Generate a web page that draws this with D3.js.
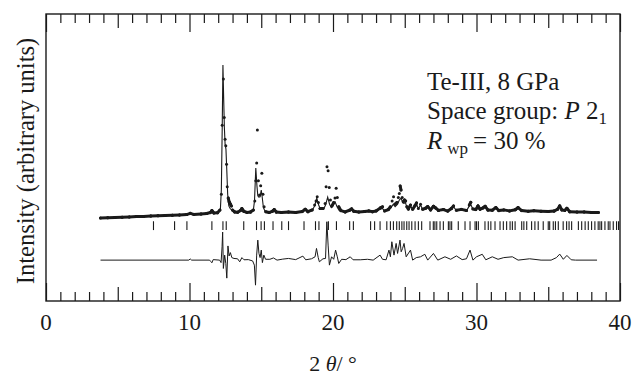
<!DOCTYPE html>
<html>
<head>
<meta charset="utf-8">
<script src="https://cdn.jsdelivr.net/npm/d3@7"></script>
<style>
  body { margin: 0; background: #fff; }
  svg { display: block; font-family: "Liberation Serif", "DejaVu Serif", serif; }
</style>
</head>
<body>
<div id="chart"></div>
<script>
// 2theta in degrees, intensity in arbitrary units
const calc = [[3.8,7.7],[5,8.1],[6,8.5],[7,8.8],[8,9.2],[9,9.5],[9.95,9.8],[10.05,10.3],[10.15,9.9],[11,10.2],
  [11.42,10.6],[11.56,11.9],[11.7,10.7],[12.0,10.9],[12.15,12.5],[12.22,25],[12.28,62],[12.33,99.4],[12.38,80],[12.43,62],
  [12.48,52],[12.54,49],[12.6,36],[12.66,22],[12.74,15],[12.85,13.2],[12.95,12.6],[13.1,11.3],[13.4,11.1],[13.55,11.8],
  [13.65,12.9],[13.78,11.6],[14.0,11.0],[14.3,11.2],[14.45,12.5],[14.53,18],[14.62,37.7],[14.7,27],[14.76,21],[14.83,20.3],
  [14.92,20.5],[15.0,24.5],[15.07,20],[15.15,14],[15.28,11.4],[15.55,10.9],[15.78,11.5],[15.9,12.4],[16.05,11.1],[16.4,10.9],
  [17.0,11.0],[17.5,10.9],[17.85,11.4],[18.06,12.6],[18.25,11.3],[18.55,12.2],[18.72,15],[18.87,19.7],[19.0,15.5],[19.12,13],
  [19.35,13.2],[19.48,15.5],[19.63,20.3],[19.76,16],[19.88,14],[20.0,15],[20.15,17.3],[20.28,14.5],[20.42,12.3],[20.8,11.2],
  [21.15,12.2],[21.3,12.8],[21.45,11.5],[22.0,11.3],[22.5,11.7],[22.75,11.3],[23.0,11.6],[23.3,13.3],[23.45,13.5],[23.6,11.8],
  [23.85,12.3],[24.05,14],[24.2,16],[24.33,14.5],[24.5,16],[24.62,18.5],[24.75,19.7],[24.85,17],[24.95,16.5],[25.05,17],
  [25.15,14],[25.25,12.8],[25.4,15],[25.55,12.8],[25.7,14.5],[25.82,16.3],[25.95,13.2],[26.1,15.5],[26.25,12.8],[26.45,13.3],
  [26.6,14.2],[26.8,12.4],[27.0,14.3],[27.15,13.4],[27.35,12.1],[27.7,12.5],[28.0,11.8],[28.25,13],[28.4,14.5],[28.6,12.2],
  [28.95,12.6],[29.3,12],[29.5,15],[29.6,16],[29.75,12.8],[29.95,12.5],[30.1,14.5],[30.25,12.8],[30.45,13.4],[30.6,14.3],
  [30.8,12.3],[31.1,12.2],[31.35,13.6],[31.55,12],[31.9,12.4],[32.3,11.8],[32.7,12.4],[32.9,13.6],[33.15,12],[33.6,11.7],
  [34,11.9],[34.5,11.7],[35,11.5],[35.4,11.7],[35.65,12.6],[35.8,14.5],[35.95,12.4],[36.15,12.1],[36.3,13.2],[36.5,11.4],
  [37,11.2],[37.5,11.3],[38,11],[38.5,10.9]];

const obs = [[3.8,7.7],[4.3,7.9],[4.8,8.1],[5.3,8.2],[5.8,8.4],[6.3,8.6],[6.8,8.7],[7.3,8.9],[7.8,9.1],[8.3,9.3],
  [8.8,9.4],[9.3,9.6],[9.8,9.8],[10.05,10.5],[10.3,9.9],[10.8,10.1],[11.2,10.4],[11.45,11.0],[11.56,12.2],[11.7,10.8],
  [11.95,10.9],[12.12,12.5],[12.22,22],[12.28,63.4],[12.36,91],[12.42,68],[12.48,55],[12.53,51],[12.58,40],[12.63,26.5],
  [12.7,19.7],[12.77,17.3],[12.84,16.2],[12.92,15],[13.0,12.5],[13.15,11.4],[13.35,11.2],[13.55,12.2],[13.65,13.4],[13.78,11.8],
  [14.0,11.1],[14.25,11.3],[14.45,12.5],[14.55,18],[14.62,30],[14.68,40.7],[14.73,60.5],[14.8,30],[14.88,21.5],[14.96,27],
  [15.04,34.5],[15.12,22],[15.2,14.5],[15.32,11.5],[15.55,11],[15.78,11.8],[15.9,12.8],[16.05,11.3],[16.4,11.1],[16.9,11.3],
  [17.4,11.1],[17.85,11.6],[18.06,13.0],[18.25,11.5],[18.55,12.6],[18.72,15.5],[18.82,18],[18.9,20.5],[18.98,17],[19.1,13.5],
  [19.3,13.5],[19.45,16.5],[19.52,26.5],[19.58,38.5],[19.66,36],[19.74,26],[19.82,18.5],[19.92,15],[20.05,17],[20.14,19.7],
  [20.22,25.5],[20.3,20],[20.4,14.5],[20.55,12.2],[20.85,11.4],[21.15,12.4],[21.3,13.2],[21.45,11.8],[21.8,11.4],[22.2,11.6],
  [22.5,12.0],[22.75,11.5],[23.0,12.0],[23.3,13.8],[23.45,14.5],[23.6,12],[23.85,12.8],[24.0,14.5],[24.12,18],[24.22,20.5],
  [24.32,16],[24.45,17],[24.55,20],[24.62,22.5],[24.68,26.9],[24.74,24.5],[24.82,20],[24.9,17.5],[24.98,18.5],[25.06,18],
  [25.15,14.5],[25.25,13.2],[25.4,15.5],[25.55,13],[25.72,15.2],[25.82,16.8],[25.95,13.5],[26.1,16],[26.25,13],[26.45,13.6],
  [26.6,14.6],[26.8,12.6],[27.0,14.8],[27.15,13.8],[27.35,12.3],[27.7,12.8],[28.0,11.9],[28.25,13.4],[28.4,15],[28.6,12.4],
  [28.95,12.9],[29.3,12.2],[29.5,15.6],[29.6,17.2],[29.75,13.2],[29.95,12.8],[30.1,15],[30.25,13],[30.45,13.8],[30.6,14.8],
  [30.8,12.5],[31.1,12.4],[31.35,14],[31.55,12.2],[31.9,12.6],[32.3,12.0],[32.7,12.7],[32.9,14],[33.15,12.2],[33.6,11.8],
  [34.0,12.1],[34.5,11.8],[35.0,11.6],[35.4,11.9],[35.65,13],[35.8,15],[35.95,12.6],[36.15,12.3],[36.3,13.6],[36.5,11.5],
  [37.0,11.3],[37.5,11.4],[38.0,11.1],[38.5,11.0]];

// obs - calc
const diff = [[3.8,0],[9.95,0],[10.05,0.7],[10.15,0],[11.4,0],[11.48,-0.8],[11.56,-1.6],[11.65,0.3],[12.1,0],[12.2,-1.5],
  [12.27,8],[12.31,16.8],[12.36,-5],[12.45,3],[12.53,-2],[12.6,-10.8],[12.68,8.5],[12.76,2.5],[12.85,4.5],[12.95,1.5],
  [13.1,1],[13.35,0.8],[13.5,-1],[13.65,1.5],[13.8,0.2],[14.1,0.3],[14.4,-0.5],[14.52,-3],[14.6,-15],[14.68,3],
  [14.76,12],[14.84,4],[14.92,1.5],[15.0,6],[15.08,-1.5],[15.18,3],[15.3,0.5],[15.6,0.5],[15.85,1.3],[16.1,0],
  [16.5,0.6],[16.9,1],[17.4,0.3],[17.9,2.4],[18.1,0.2],[18.5,0.8],[18.75,2],[18.85,7],[18.97,1.5],[19.05,-1],
  [19.3,0.8],[19.48,1],[19.57,23],[19.66,9],[19.75,-3],[19.9,2],[20.05,0.5],[20.18,6],[20.3,2],[20.4,-2],
  [20.6,0.5],[20.9,0.3],[21.2,2],[21.4,0.2],[21.9,0.2],[22.4,0.5],[22.8,0],[23.28,3],[23.45,0.5],[23.7,0.2],
  [23.9,6],[24.0,2],[24.1,11],[24.25,3],[24.4,10],[24.5,4],[24.67,12],[24.75,5],[24.85,7],[24.95,10],
  [25.1,2],[25.4,6],[25.55,0],[25.8,1.5],[26.1,2],[26.4,3.5],[26.6,0],[27.0,4],[27.3,0],[27.8,2],
  [28.2,0.5],[28.6,2.5],[29.0,0.3],[29.3,0.8],[29.55,6],[29.75,0],[30.0,2],[30.4,3.5],[30.65,0.2],[31.1,2],
  [31.5,0.5],[31.9,1.5],[32.5,2],[32.9,0],[33.7,0.8],[34.5,0],[35.2,0],[35.57,1.5],[35.8,3.6],[36.05,0.5],
  [36.3,2.8],[36.6,0.2],[36.9,0],[38.4,0]];

// Bragg reflection positions
const reflections = [7.49, 8.96, 9.82, 11.56, 12.33, 12.56, 13.78, 14.67, 14.99, 15.22, 15.82, 16.43, 16.9,
  17.98, 18.78, 19.02, 19.68, 20.24, 21.16, 21.42, 22.62, 22.9, 23.28, 23.75, 24.0, 24.21, 24.44, 24.62, 24.8,
  24.95, 25.14, 25.3, 25.49, 25.72, 25.95, 26.18, 26.76, 26.99, 27.1, 27.23, 27.46, 27.69, 28.04, 28.15, 28.27,
  28.73, 29.2, 29.55, 29.9, 30.0, 30.13, 30.59, 30.82, 31.0, 31.29, 31.64, 31.87, 32.1, 32.34, 32.5, 32.69,
  33.15, 33.3, 33.5, 33.84, 34.07, 34.3, 34.65, 35.0, 35.1, 35.35, 35.5, 35.7, 36.04, 36.28, 36.45, 36.63,
  37.1, 37.33, 37.57, 37.79, 38.02, 38.25, 38.48, 38.6, 38.72, 38.95, 39.18, 39.3, 39.53, 39.76, 39.9];

const xTickLabels = [0, 10, 20, 30, 40];

const width = 633, height = 378;
const margin = {top: 14, right: 13, bottom: 77, left: 46};
const innerW = width - margin.left - margin.right;
const innerH = height - margin.top - margin.bottom;
const ink = '#1a1a1a';

const svg = d3.select('#chart').append('svg')
  .attr('width', width)
  .attr('height', height);

const g = svg.append('g')
  .attr('transform', `translate(${margin.left},${margin.top})`);

const x = d3.scaleLinear().domain([0, 40]).range([0, innerW]);
const y = d3.scaleLinear().domain([-42, 130]).range([innerH, 0]);

const diffOffset = -17.5;
const tickLo = 0.5, tickHi = 5.8;

// ticks every degree, longer at 5 and 10
const tickLen = d => d % 10 === 0 ? 18 : (d % 5 === 0 ? 14 : 9);

const bottomAxis = g.append('g')
  .attr('transform', `translate(0,${innerH})`)
  .call(d3.axisBottom(x).tickValues(d3.range(0, 41)).tickSize(0).tickFormat(''));
bottomAxis.selectAll('.tick line').attr('y2', d => -tickLen(d)).attr('stroke', ink).attr('stroke-width', 1.2);
bottomAxis.select('.domain').remove();

const topAxis = g.append('g')
  .call(d3.axisTop(x).tickValues(d3.range(0, 41)).tickSize(0).tickFormat(''));
topAxis.selectAll('.tick line').attr('y2', d => tickLen(d)).attr('stroke', ink).attr('stroke-width', 1.2);
topAxis.select('.domain').remove();

g.append('rect')
  .attr('width', innerW)
  .attr('height', innerH)
  .attr('fill', 'none')
  .attr('stroke', ink)
  .attr('stroke-width', 1.4);

g.selectAll('.xlab')
  .data(xTickLabels)
  .enter().append('text')
  .attr('class', 'xlab')
  .attr('x', d => x(d))
  .attr('y', innerH + 29)
  .attr('text-anchor', 'middle')
  .attr('font-size', 23)
  .attr('fill', ink)
  .text(d => d);

// calculated profile
const line = d3.line().x(d => x(d[0])).y(d => y(d[1]));
g.append('path')
  .datum(calc)
  .attr('d', line)
  .attr('fill', 'none')
  .attr('stroke', ink)
  .attr('stroke-width', 1.1);

// observed: dense points, joined where they sit close together
const segs = d3.pairs(obs).filter(p => Math.abs(p[0][1] - p[1][1]) < 2.5);
g.selectAll('.obsseg')
  .data(segs)
  .enter().append('line')
  .attr('x1', d => x(d[0][0])).attr('y1', d => y(d[0][1]))
  .attr('x2', d => x(d[1][0])).attr('y2', d => y(d[1][1]))
  .attr('stroke', ink)
  .attr('stroke-width', 3)
  .attr('stroke-linecap', 'round');

g.selectAll('.obs')
  .data(obs)
  .enter().append('circle')
  .attr('cx', d => x(d[0]))
  .attr('cy', d => y(d[1]))
  .attr('r', 1.5)
  .attr('fill', ink);

// reflection markers
g.selectAll('.refl')
  .data(reflections)
  .enter().append('line')
  .attr('x1', d => x(d)).attr('x2', d => x(d))
  .attr('y1', y(tickLo)).attr('y2', y(tickHi))
  .attr('stroke', ink)
  .attr('stroke-width', 1.1);

// difference curve
g.append('path')
  .datum(diff)
  .attr('d', d3.line().x(d => x(d[0])).y(d => y(d[1] + diffOffset)))
  .attr('fill', 'none')
  .attr('stroke', ink)
  .attr('stroke-width', 1);

// axis titles
svg.append('text')
  .attr('transform', `translate(34,${margin.top + 147}) rotate(-90)`)
  .attr('text-anchor', 'middle')
  .attr('font-size', 24.5)
  .attr('fill', ink)
  .text('Intensity (arbitrary units)');

const xt = svg.append('text')
  .attr('x', margin.left + innerW / 2)
  .attr('y', 371)
  .attr('text-anchor', 'middle')
  .attr('font-size', 22)
  .attr('fill', ink);
xt.append('tspan').text('2 ');
xt.append('tspan').attr('font-style', 'italic').text('θ');
xt.append('tspan').text('/ °');

// annotation
const note = svg.append('g').attr('font-size', 25).attr('fill', ink);
note.append('text').attr('x', 427).attr('y', 90).text('Te-III, 8 GPa');
const sg = note.append('text').attr('x', 427).attr('y', 119);
sg.append('tspan').text('Space group: ');
sg.append('tspan').attr('font-style', 'italic').text('P');
sg.append('tspan').text(' 2');
sg.append('tspan').attr('font-size', 17).attr('dy', 5).text('1');
const rw = note.append('text').attr('x', 427).attr('y', 149);
rw.append('tspan').attr('font-style', 'italic').text('R');
rw.append('tspan').attr('font-size', 17).attr('dx', 5).attr('dy', 5).text('wp');
rw.append('tspan').attr('dx', 5).attr('dy', -5).text('= 30 %');
</script>
</body>
</html>
